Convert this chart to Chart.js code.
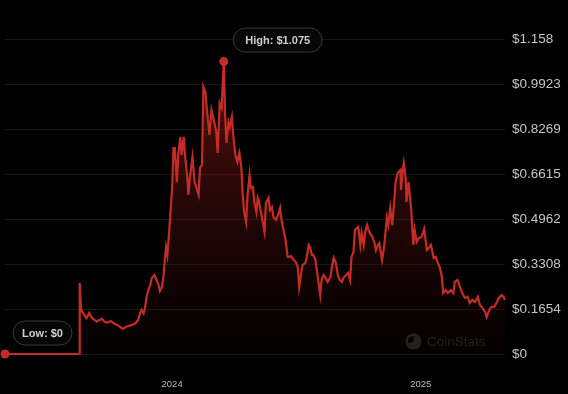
<!DOCTYPE html>
<html>
<head>
<meta charset="utf-8">
<script src="https://cdn.jsdelivr.net/npm/chart.js@4/dist/chart.umd.min.js"></script>
<style>
  html, body { margin: 0; padding: 0; background: #000; }
  #wrap { width: 568px; height: 394px; position: relative; }
</style>
</head>
<body>
<div id="wrap"><canvas id="priceChart"></canvas></div>
<script>
// ===============================
// DATA
// ===============================
// days counted from 2024-01-01
const days = [
  -246, -137, -136, -134, -131, -126, -122, -119, -116, -111,
  -107, -103, -100, -96, -90, -86, -81, -77, -72, -68,
  -64, -59, -54, -50, -47, -45, -42, -40, -37, -35,
  -32, -30, -26, -23, -20, -18, -15, -13, -11, -9,
  -7, -4, 0, 2, 4, 7, 9, 12, 14, 17,
  19, 22, 24, 26, 30, 33, 36, 39, 41, 44,
  46, 49, 51, 55, 58, 62, 65, 67, 70, 73,
  76, 78, 80, 83, 85, 88, 90, 93, 96, 99,
  102, 104, 106, 109, 111, 114, 116, 119, 121, 124,
  126, 128, 132, 136, 138, 142, 144, 147, 149, 153,
  156, 159, 161, 164, 167, 170, 172, 175, 179, 182,
  185, 187, 190, 192, 196, 198, 201, 203, 206, 208,
  211, 214, 218, 220, 223, 226, 229, 233, 235, 238,
  241, 244, 247, 250, 252, 256, 259, 262, 264, 267,
  269, 272, 274, 277, 279, 282, 284, 287, 289, 291,
  295, 298, 300, 303, 305, 309, 312, 316, 318, 321,
  324, 327, 329, 332, 336, 337, 339, 341, 344, 345,
  348, 352, 355, 357, 360, 363, 367, 371, 375, 378,
  381, 385, 388, 391, 394, 397, 399, 403, 406, 410,
  414, 416, 420, 424, 427, 431, 435, 438, 442, 446,
  450, 453, 457, 461, 463, 467, 470, 474, 478, 481,
  485, 488, 490
];

const prices = [
  0, 0, 0.261, 0.162, 0.150, 0.132, 0.151, 0.136, 0.129, 0.119,
  0.125, 0.129, 0.119, 0.115, 0.121, 0.113, 0.107, 0.100, 0.092, 0.100,
  0.103, 0.107, 0.113, 0.125, 0.151, 0.162, 0.150, 0.169, 0.217, 0.235,
  0.254, 0.279, 0.290, 0.272, 0.254, 0.232, 0.246, 0.279, 0.338, 0.393,
  0.364, 0.463, 0.610, 0.757, 0.757, 0.632, 0.732, 0.798, 0.732, 0.798,
  0.732, 0.658, 0.585, 0.647, 0.724, 0.632, 0.610, 0.585, 0.684, 0.695,
  0.982, 0.963, 0.904, 0.805, 0.897, 0.853, 0.816, 0.739, 0.923, 0.904,
  1.075, 0.879, 0.776, 0.853, 0.835, 0.871, 0.805, 0.732, 0.706, 0.739,
  0.684, 0.585, 0.522, 0.485, 0.585, 0.658, 0.610, 0.614, 0.559, 0.522,
  0.574, 0.559, 0.504, 0.449, 0.555, 0.574, 0.529, 0.540, 0.504, 0.493,
  0.511, 0.537, 0.493, 0.456, 0.419, 0.357, 0.357, 0.360, 0.346, 0.338,
  0.320, 0.246, 0.298, 0.327, 0.335, 0.353, 0.401, 0.393, 0.364, 0.364,
  0.346, 0.290, 0.217, 0.272, 0.290, 0.279, 0.265, 0.283, 0.316, 0.353,
  0.335, 0.290, 0.272, 0.265, 0.279, 0.290, 0.298, 0.272, 0.357, 0.375,
  0.456, 0.463, 0.467, 0.401, 0.445, 0.401, 0.449, 0.474, 0.456, 0.445,
  0.430, 0.408, 0.382, 0.401, 0.408, 0.346, 0.393, 0.500, 0.474, 0.537,
  0.474, 0.566, 0.632, 0.665, 0.676, 0.603, 0.669, 0.702, 0.640, 0.559,
  0.632, 0.529, 0.401, 0.456, 0.412, 0.426, 0.430, 0.460, 0.382, 0.390,
  0.401, 0.353, 0.357, 0.335, 0.320, 0.283, 0.224, 0.235, 0.224, 0.235,
  0.224, 0.265, 0.272, 0.246, 0.224, 0.206, 0.210, 0.188, 0.199, 0.191,
  0.210, 0.180, 0.169, 0.154, 0.136, 0.162, 0.173, 0.173, 0.191, 0.206,
  0.217, 0.210, 0.199
];

const yTicks = [0, 0.1654, 0.3308, 0.4962, 0.6615, 0.8269, 0.9923, 1.158];
const yTickLabels = ["$0", "$0.1654", "$0.3308", "$0.4962", "$0.6615", "$0.8269", "$0.9923", "$1.158"];
const xTickDays = [0, 366];
const xTickLabels = ["2024", "2025"];

const highText = "High: $1.075";
const lowText = "Low: $0";

// ===============================
// HELPERS
// ===============================
const FONT = "'Liberation Sans', Arial, sans-serif";
const RED = "#c42c26";

const points = days.map((d, i) => ({ x: d, y: prices[i] }));
const highIdx = prices.indexOf(Math.max(...prices));
const lowIdx = prices.indexOf(Math.min(...prices));

function fillGradient(context) {
  const { ctx, chartArea } = context.chart;
  if (!chartArea) return "rgba(150,30,25,0.4)";
  const g = ctx.createLinearGradient(0, chartArea.top, 0, chartArea.bottom);
  g.addColorStop(0, "rgba(160,32,26,0.62)");
  g.addColorStop(0.5, "rgba(110,22,18,0.36)");
  g.addColorStop(1, "rgba(60,10,8,0.08)");
  return g;
}

function drawPill(ctx, text, cx, cy, padX) {
  ctx.font = "bold 11px " + FONT;
  const w = ctx.measureText(text).width + padX * 2;
  const h = 24;
  const x = cx - w / 2, y = cy - h / 2;
  ctx.beginPath();
  ctx.roundRect(x, y, w, h, h / 2);
  ctx.fillStyle = "rgba(8,8,8,0.9)";
  ctx.fill();
  ctx.strokeStyle = "#383838";
  ctx.lineWidth = 1;
  ctx.stroke();
  ctx.fillStyle = "#cfcfcf";
  ctx.textAlign = "center";
  ctx.textBaseline = "middle";
  ctx.fillText(text, cx, cy + 0.5);
}

// ===============================
// PLUGINS
// ===============================
const watermark = {
  id: "watermark",
  beforeDatasetsDraw(chart) {
    const ctx = chart.ctx;
    ctx.save();
    ctx.fillStyle = "#232323";
    ctx.beginPath();
    ctx.arc(413.5, 341.5, 8, 0, Math.PI * 2);
    ctx.fill();
    ctx.fillStyle = "#000";
    ctx.beginPath();
    ctx.arc(413.5, 341.5, 5.5, 0, Math.PI * 2);
    ctx.fill();
    ctx.fillStyle = "#232323";
    ctx.beginPath();
    ctx.moveTo(413.5, 341.5);
    ctx.arc(413.5, 341.5, 5.5, -Math.PI / 2, Math.PI * 0.9);
    ctx.closePath();
    ctx.fill();
    ctx.font = "13.5px " + FONT;
    ctx.textAlign = "left";
    ctx.textBaseline = "middle";
    ctx.fillText("CoinStats", 427, 342);
    ctx.restore();
  }
};

const extremes = {
  id: "extremes",
  afterDatasetsDraw(chart) {
    const ctx = chart.ctx;
    const xs = chart.scales.x, ys = chart.scales.y;
    ctx.save();
    const hx = xs.getPixelForValue(days[highIdx]);
    const hy = ys.getPixelForValue(prices[highIdx]);
    drawPill(ctx, highText, hx + 54, hy - 21.5, 12);
    const lx = xs.getPixelForValue(days[lowIdx]);
    const ly = ys.getPixelForValue(prices[lowIdx]);
    drawPill(ctx, lowText, lx + 37.5, ly - 21, 9);
    ctx.restore();
  }
};

// ===============================
// CHART
// ===============================
new Chart(document.getElementById("priceChart"), {
  type: "line",
  data: {
    datasets: [{
      data: points,
      borderColor: RED,
      borderWidth: 2.2,
      tension: 0,
      fill: "start",
      backgroundColor: fillGradient,
      pointRadius: ctx => (ctx.dataIndex === highIdx || ctx.dataIndex === lowIdx) ? 4.5 : 0,
      pointBackgroundColor: RED,
      pointBorderWidth: 0,
      clip: false
    }]
  },
  options: {
    responsive: true,
    maintainAspectRatio: false,
    animation: false,
    layout: { padding: { top: 39, left: 5, right: 0, bottom: 0 } },
    plugins: {
      legend: { display: false },
      tooltip: { enabled: false }
    },
    scales: {
      x: {
        type: "linear",
        min: days[0],
        max: days[days.length - 1],
        grid: { display: false },
        border: { display: false },
        afterBuildTicks: scale => { scale.ticks = xTickDays.map(v => ({ value: v })); },
        afterFit: scale => { scale.height = 40; },
        ticks: {
          color: "#bdbdbd",
          font: { family: FONT, size: 9.5 },
          padding: 17,
          maxRotation: 0,
          autoSkip: false,
          callback: v => xTickLabels[xTickDays.indexOf(v)] || ""
        }
      },
      y: {
        position: "right",
        min: 0,
        max: yTicks[yTicks.length - 1],
        grid: { color: "#171717", lineWidth: 1, drawTicks: false },
        border: { display: false },
        afterBuildTicks: scale => { scale.ticks = yTicks.map(v => ({ value: v })); },
        afterFit: scale => { scale.width = 63; },
        ticks: {
          color: "#c4c4c4",
          font: { family: FONT, size: 13.5 },
          padding: 7,
          callback: v => yTickLabels[yTicks.indexOf(v)]
        }
      }
    }
  },
  plugins: [watermark, extremes]
});
</script>
</body>
</html>
